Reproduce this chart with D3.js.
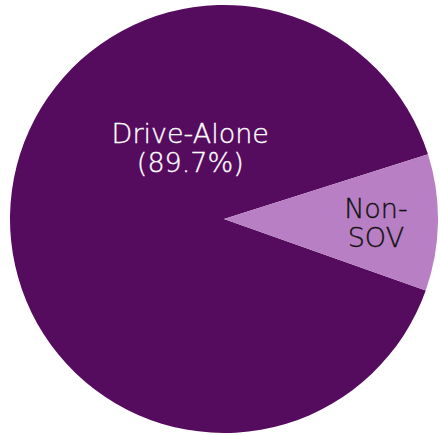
<!DOCTYPE html>
<html>
<head>
<meta charset="utf-8">
<script src="https://cdn.jsdelivr.net/npm/d3@7"></script>
<style>
  html, body { margin: 0; padding: 0; background: #fff; }
  svg text { font-family: "DejaVu Sans", sans-serif; font-weight: 200; }
</style>
</head>
<body>
<svg id="chart" width="440" height="435"></svg>
<script>
// data
const categories = ["Drive-Alone", "Non-SOV"];
const shares = [89.7, 10.3];
const labelLines = [["Drive-Alone", "(89.7%)"], ["Non-", "SOV"]];
const colors = ["#550b5e", "#b97fc4"];
const textColors = ["#ffffff", "#111111"];

const svg = d3.select("#chart");
const cx = 224, cy = 219, radius = 214;

const data = categories.map((c, i) => ({ name: c, value: shares[i], lines: labelLines[i], i }));

// pie starts at the lower edge of the small slice
const pie = d3.pie()
  .sort(null)
  .value(d => d.value)
  .startAngle(1.911)
  .endAngle(1.911 + 2 * Math.PI);

const arc = d3.arc().innerRadius(0).outerRadius(radius);

const g = svg.append("g").attr("transform", `translate(${cx},${cy})`);

const arcs = pie(data);

g.selectAll("path")
  .data(arcs)
  .enter()
  .append("path")
  .attr("d", arc)
  .attr("fill", d => colors[d.data.i]);

// label placement (angle in radians from 12 o'clock, fraction of radius)
const labelPos = [
  { angle: -0.44, r: 0.37 },
  { angle: null, r: 0.71 }
];

const fontSize = 27;
const lineGap = 29;

const labels = g.selectAll("g.slice-label")
  .data(arcs)
  .enter()
  .append("g")
  .attr("class", "slice-label")
  .attr("transform", d => {
    const p = labelPos[d.data.i];
    const a = p.angle === null ? (d.startAngle + d.endAngle) / 2 : p.angle;
    const x = Math.sin(a) * radius * p.r;
    const y = -Math.cos(a) * radius * p.r;
    return `translate(${x},${y})`;
  });

labels.each(function (d) {
  d3.select(this).selectAll("text")
    .data(d.data.lines)
    .enter()
    .append("text")
    .attr("text-anchor", "middle")
    .attr("font-size", fontSize)
    .attr("fill", textColors[d.data.i])
    .attr("stroke", textColors[d.data.i])
    .attr("stroke-width", 0.35)
    .attr("y", (t, i) => i * lineGap - 4)
    .text(t => t);
});
</script>
</body>
</html>
